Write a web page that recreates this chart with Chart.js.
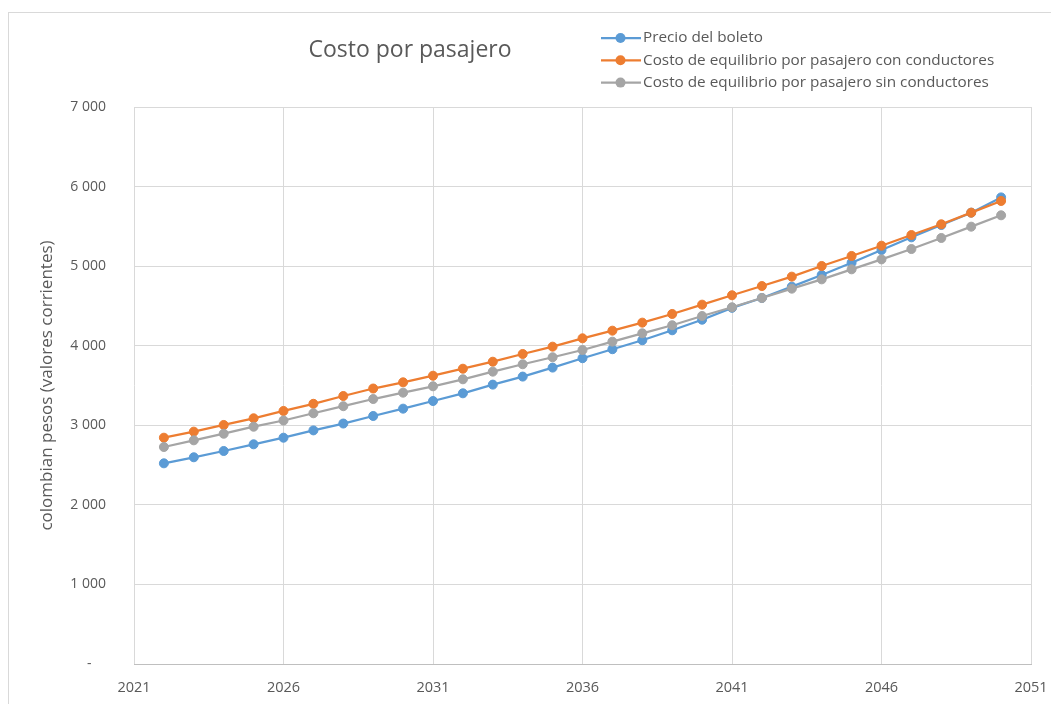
<!DOCTYPE html>
<html>
<head>
<meta charset="utf-8">
<title>Costo por pasajero</title>
<script src="https://cdn.jsdelivr.net/npm/chart.js@4"></script>
<style>
  html, body { margin: 0; padding: 0; background: #fff; }
  #wrap { width: 1051px; height: 704px; position: relative; }
</style>
</head>
<body>
<div id="wrap"><canvas id="costChart" width="1051" height="704"></canvas></div>
<script>
// years 2022 - 2050
const years = [2022, 2023, 2024, 2025, 2026, 2027, 2028, 2029, 2030, 2031,
  2032, 2033, 2034, 2035, 2036, 2037, 2038, 2039, 2040, 2041,
  2042, 2043, 2044, 2045, 2046, 2047, 2048, 2049, 2050];

const precioBoleto = [2522, 2598, 2677, 2761, 2844, 2936, 3022, 3117, 3209, 3305,
  3402, 3511, 3612, 3725, 3843, 3956, 4069, 4194, 4327, 4476,
  4600, 4742, 4889, 5043, 5203, 5362, 5517, 5672, 5864];

const costoConConductores = [2844, 2920, 3004, 3088, 3180, 3270, 3368, 3462, 3540, 3623,
  3711, 3799, 3896, 3988, 4093, 4189, 4290, 4399, 4516, 4634,
  4750, 4868, 5002, 5128, 5257, 5391, 5526, 5672, 5819];

const costoSinConductores = [2727, 2811, 2894, 2982, 3060, 3151, 3240, 3330, 3410, 3490,
  3578, 3674, 3767, 3855, 3946, 4051, 4156, 4257, 4374, 4483,
  4600, 4717, 4834, 4960, 5085, 5215, 5354, 5496, 5639];

const seriesNames = [
  'Precio del boleto',
  'Costo de equilibrio por pasajero con conductores',
  'Costo de equilibrio por pasajero sin conductores'
];
const seriesColors = ['#5B9BD5', '#ED7D31', '#A5A5A5'];

const FONT = '"Open Sans", Lato, sans-serif';
const TEXT = '#595959';
const GRID = '#D9D9D9';

function toPoints(vals) {
  return vals.map((v, i) => ({ x: years[i], y: v }));
}

function makeSet(idx, vals) {
  return {
    label: seriesNames[idx],
    data: toPoints(vals),
    borderColor: seriesColors[idx],
    backgroundColor: seriesColors[idx],
    pointBackgroundColor: seriesColors[idx],
    pointBorderColor: seriesColors[idx],
    borderWidth: 2.25,
    pointRadius: 4.5,
    pointBorderWidth: 1,
    tension: 0,
    order: 3 - idx   // excel draws later series on top
  };
}

// frame, title and the stacked legend, drawn like the excel original
const excelFrame = {
  id: 'excelFrame',
  beforeDraw(chart) {
    const ctx = chart.ctx;
    ctx.save();
    ctx.fillStyle = '#fff';
    ctx.fillRect(0, 0, chart.width, chart.height);
    ctx.strokeStyle = GRID;
    ctx.lineWidth = 1;
    ctx.strokeRect(8.5, 12.5, 1100, 800);
    ctx.restore();
  },
  afterDraw(chart) {
    const ctx = chart.ctx;
    ctx.save();
    ctx.fillStyle = TEXT;
    ctx.textBaseline = 'middle';
    ctx.textAlign = 'center';
    ctx.font = '23px ' + FONT;
    ctx.fillText('Costo por pasajero', 410, 50);

    ctx.textAlign = 'left';
    ctx.font = '15.3px ' + FONT;
    chart.data.datasets.forEach((ds, i) => {
      const y = 38 + i * 22.3;
      ctx.strokeStyle = ds.borderColor;
      ctx.lineWidth = 2.25;
      ctx.beginPath();
      ctx.moveTo(601, y);
      ctx.lineTo(641, y);
      ctx.stroke();
      ctx.fillStyle = ds.borderColor;
      ctx.beginPath();
      ctx.arc(620.5, y, 5, 0, Math.PI * 2);
      ctx.fill();
      ctx.fillStyle = TEXT;
      ctx.fillText(ds.label, 643, y);
    });
    ctx.restore();
  }
};

const config = {
  type: 'line',
  data: {
    datasets: [
      makeSet(0, precioBoleto),
      makeSet(1, costoConConductores),
      makeSet(2, costoSinConductores)
    ]
  },
  options: {
    responsive: false,
    animation: false,
    layout: { padding: { top: 107, right: 20, left: 0, bottom: 0 } },
    plugins: {
      legend: { display: false },
      title: { display: false },
      tooltip: { enabled: false }
    },
    scales: {
      x: {
        type: 'linear',
        min: 2021,
        max: 2051,
        afterFit(scale) {
          scale.height = 40;
          scale.paddingLeft = 0;
          scale.paddingRight = 0;
        },
        ticks: {
          stepSize: 5,
          color: TEXT,
          font: { family: FONT, size: 14.5 },
          padding: 15,
          maxRotation: 0,
          callback: v => String(v)
        },
        grid: { color: GRID, drawTicks: false },
        border: { color: '#BFBFBF' }
      },
      y: {
        min: 0,
        max: 7000,
        afterFit(scale) { scale.width = 134; },
        ticks: {
          stepSize: 1000,
          color: TEXT,
          font: { family: FONT, size: 14 },
          padding: 28,
          callback: v => v === 0 ? '-    ' : String(v).replace(/\B(?=(\d{3})+(?!\d))/g, ' ')
        },
        grid: { color: GRID, drawTicks: false },
        border: { display: false },
        title: {
          display: true,
          text: 'colombian pesos (valores corrientes)',
          color: TEXT,
          font: { family: FONT, size: 17 },
          padding: { top: 37, bottom: 0 }
        }
      }
    }
  },
  plugins: [excelFrame]
};

const costChart = new Chart(document.getElementById('costChart'), config);
</script>
</body>
</html>
